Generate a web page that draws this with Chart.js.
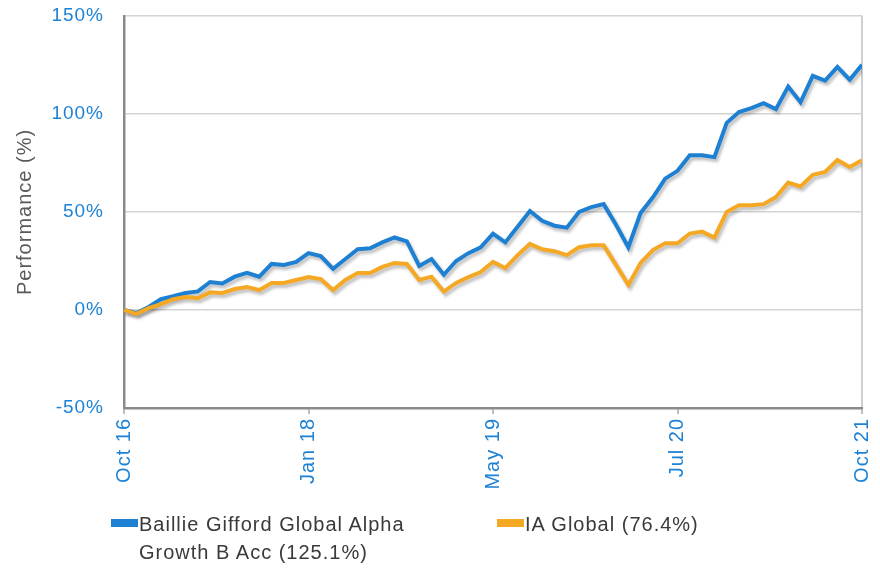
<!DOCTYPE html>
<html>
<head>
<meta charset="utf-8">
<script src="https://cdn.jsdelivr.net/npm/chart.js@4/dist/chart.umd.min.js"></script>
<style>
  html, body { margin: 0; padding: 0; background: #fff; }
  #wrap { position: relative; width: 880px; height: 569px; }
  #legend { position: absolute; left: 111px; top: 510px; font-family: "Liberation Sans", Arial, sans-serif;
            font-size: 20px; color: #3a3a3a; line-height: 28px; letter-spacing: 1px; }
  .item { position: absolute; top: 0; display: flex; align-items: flex-start; }
  .box { width: 27px; height: 8px; margin-top: 9px; margin-right: 1px; flex: none; }
</style>
</head>
<body>
<div id="wrap">
  <canvas id="c" width="880" height="569"></canvas>
  <div id="legend"></div>
</div>
<script>
// Series names
const seriesNames = ["Baillie Gifford Global Alpha Growth B Acc (125.1%)", "IA Global (76.4%)"];
// Tick labels on the time axis (evenly spaced)
const tickLabels = ["Oct 16", "Jan 18", "May 19", "Jul 20", "Oct 21"];
// Cumulative performance (%), one point per period from Oct 16 to Oct 21
const fundValues = [0, -1.5, 1.5, 5.5, 7, 8.7, 9.5, 14.3, 13.5, 17, 19, 17, 23.5, 23, 24.5, 29, 27.5, 21, 26, 31,
  31.5, 34.5, 37, 35, 22.5, 26, 18, 25, 29, 32, 39, 34.5, 42.5, 50.5, 45.5, 43, 42, 50, 52.5, 54,
  43.5, 32, 49.5, 57.5, 67, 71, 79, 79, 78, 95.5, 101, 103, 105.5, 102.5, 114, 106, 119.5, 117, 124, 117.5, 125.1];
const sectorValues = [0, -2, 1, 3, 5.5, 6.6, 6, 9, 8.7, 10.7, 11.7, 10.2, 13.8, 13.8, 15.3, 16.8, 15.8, 10.2, 15.3, 18.9,
  18.9, 22, 24, 23.5, 15.3, 17, 9.4, 13.8, 16.8, 19.4, 24.5, 21.4, 28, 33.7, 31, 30, 28, 32, 33, 33,
  23, 12.8, 24, 30.6, 34, 34, 39, 40, 37, 50, 53.5, 53.5, 54, 57.6, 65, 63, 69, 70.4, 76.5, 73, 76.4];
const yTicks = [-50, 0, 50, 100, 150];

const BLUE = "rgb(30,128,210)";
const ORANGE = "rgb(245,168,35)";
const TICKBLUE = "rgb(30,130,212)";

const toPoints = arr => arr.map((v, i) => ({ x: i, y: v }));
const lastIndex = fundValues.length - 1;
const tickStep = lastIndex / (tickLabels.length - 1);

const spacingPlugin = {
  id: "spacing",
  beforeInit(chart) { chart.ctx.letterSpacing = "1px"; },
  beforeLayout(chart) { chart.ctx.letterSpacing = "1px"; },
  beforeDraw(chart) { chart.ctx.letterSpacing = "1px"; }
};

const shadowPlugin = {
  id: "shadow",
  beforeDatasetsDraw(chart) {
    const ctx = chart.ctx;
    ctx.save();
    ctx.shadowColor = "rgba(0,0,0,0.25)";
    ctx.shadowBlur = 3;
    ctx.shadowOffsetX = 2;
    ctx.shadowOffsetY = 3;
  },
  afterDatasetsDraw(chart) { chart.ctx.restore(); }
};

const chart = new Chart(document.getElementById("c"), {
  type: "line",
  data: {
    datasets: [
      { label: seriesNames[0], data: toPoints(fundValues), borderColor: BLUE, backgroundColor: BLUE,
        borderWidth: 4, pointRadius: 0, tension: 0, order: 1 },
      { label: seriesNames[1], data: toPoints(sectorValues), borderColor: ORANGE, backgroundColor: ORANGE,
        borderWidth: 4, pointRadius: 0, tension: 0, order: 0 }
    ]
  },
  options: {
    responsive: false,
    animation: false,
    layout: { padding: { top: 16, right: 18, left: 0, bottom: 0 } },
    plugins: { legend: { display: false }, tooltip: { enabled: false } },
    scales: {
      x: {
        type: "linear", min: 0, max: lastIndex,
        afterFit(scale) {
          scale.height = 161;
          scale.paddingLeft = 0; scale.paddingRight = 0; scale.paddingTop = 0; scale.paddingBottom = 0;
        },
        afterBuildTicks(scale) { scale.ticks = tickLabels.map((_, i) => ({ value: i * tickStep })); },
        ticks: {
          autoSkip: false, minRotation: 90, maxRotation: 90, padding: 4,
          color: TICKBLUE, font: { family: "Liberation Sans", size: 20 },
          callback: (v, i) => tickLabels[i]
        },
        grid: {
          color: c => (c.index === tickLabels.length - 1 ? "#cfcfcf" : "rgba(0,0,0,0)"),
          tickColor: "#bdbdbd", tickLength: 6, lineWidth: 2
        },
        border: { color: "#8a8a8a", width: 2.5 }
      },
      y: {
        min: -50, max: 150,
        afterFit(scale) {
          scale.width = 124;
          scale.paddingLeft = 0; scale.paddingRight = 0; scale.paddingTop = 0; scale.paddingBottom = 0;
        },
        afterBuildTicks(scale) { scale.ticks = yTicks.map(v => ({ value: v })); },
        ticks: {
          padding: 20, color: TICKBLUE, font: { family: "Liberation Sans", size: 19 },
          callback: v => v + "%"
        },
        grid: { color: "#d4d4d4", lineWidth: 1.5, drawTicks: false },
        border: { color: "#8a8a8a", width: 2.5 },
        title: {
          display: true, text: "Performance (%)", color: "#5a5a5a",
          font: { family: "Liberation Sans", size: 20 }, padding: { top: 13, bottom: 0 }
        }
      }
    }
  },
  plugins: [spacingPlugin, shadowPlugin]
});

// HTML legend built from the datasets
const legend = document.getElementById("legend");
const itemLayout = [{ left: 0, width: 310 }, { left: 386, width: 260 }];
chart.data.datasets.forEach((ds, i) => {
  const item = document.createElement("div");
  item.className = "item";
  item.style.left = itemLayout[i].left + "px";
  item.style.width = itemLayout[i].width + "px";
  const box = document.createElement("span");
  box.className = "box";
  box.style.background = ds.borderColor;
  const txt = document.createElement("span");
  txt.textContent = ds.label;
  item.appendChild(box);
  item.appendChild(txt);
  legend.appendChild(item);
});
</script>
</body>
</html>
